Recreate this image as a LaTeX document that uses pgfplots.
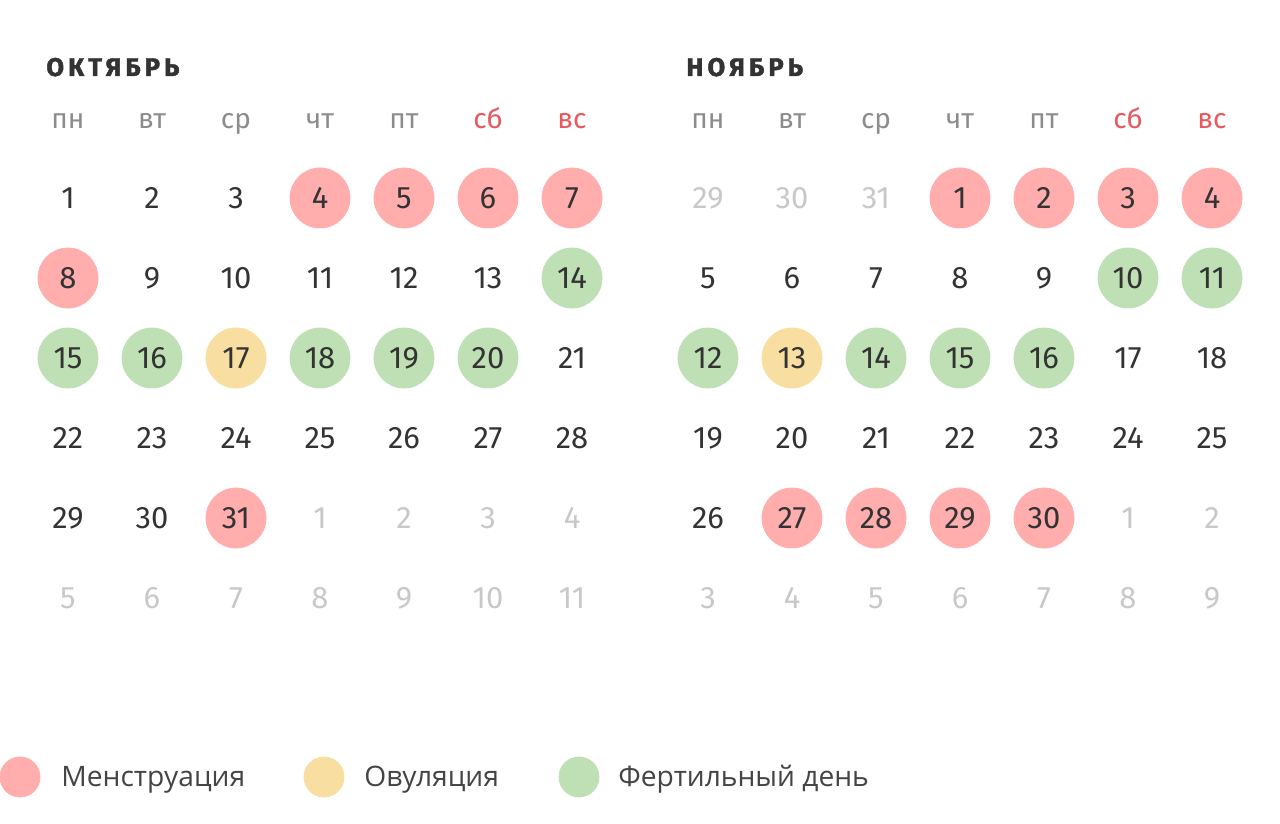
\documentclass[border=0pt]{standalone}
\usepackage{pgfplots}
\pgfplotsset{compat=1.18}
\usepackage{pgfplotstable}
\usepackage{fontspec}
\setmainfont{Fira Sans}
\newfontfamily\legfont{Open Sans}
\newfontfamily\ttlfont[LetterSpace=16, BoldFeatures={FakeBold=1.6}]{Fira Sans}

\definecolor{menst}{RGB}{255,173,173}
\definecolor{ovul}{RGB}{248,222,160}
\definecolor{fert}{RGB}{190,224,180}
\definecolor{txt}{RGB}{51,51,51}
\definecolor{fade}{RGB}{200,200,200}
\definecolor{wday}{RGB}{140,140,140}
\definecolor{wend}{RGB}{234,88,94}
\definecolor{legtxt}{RGB}{68,68,68}

% weekday headers
\pgfplotstableread{
c w
0 пн
1 вт
2 ср
3 чт
4 пт
}\workdays
\pgfplotstableread{
c w
5 сб
6 вс
}\weekend

% marked days: m = menstruation, o = ovulation, f = fertile
\pgfplotstableread{
c r k
3 0 m
4 0 m
5 0 m
6 0 m
0 1 m
6 1 f
0 2 f
1 2 f
2 2 o
3 2 f
4 2 f
5 2 f
2 4 m
}\octmarks
\pgfplotstableread{
c r k
3 0 m
4 0 m
5 0 m
6 0 m
5 1 f
6 1 f
0 2 f
1 2 o
2 2 f
3 2 f
4 2 f
1 4 m
2 4 m
3 4 m
4 4 m
}\novmarks

\pgfplotstableread{
c r d
0 0 1
1 0 2
2 0 3
3 0 4
4 0 5
5 0 6
6 0 7
0 1 8
1 1 9
2 1 10
3 1 11
4 1 12
5 1 13
6 1 14
0 2 15
1 2 16
2 2 17
3 2 18
4 2 19
5 2 20
6 2 21
0 3 22
1 3 23
2 3 24
3 3 25
4 3 26
5 3 27
6 3 28
0 4 29
1 4 30
2 4 31
}\octdays
\pgfplotstableread{
c r d
3 4 1
4 4 2
5 4 3
6 4 4
0 5 5
1 5 6
2 5 7
3 5 8
4 5 9
5 5 10
6 5 11
}\octfade

\pgfplotstableread{
c r d
3 0 1
4 0 2
5 0 3
6 0 4
0 1 5
1 1 6
2 1 7
3 1 8
4 1 9
5 1 10
6 1 11
0 2 12
1 2 13
2 2 14
3 2 15
4 2 16
5 2 17
6 2 18
0 3 19
1 3 20
2 3 21
3 3 22
4 3 23
5 3 24
6 3 25
0 4 26
1 4 27
2 4 28
3 4 29
4 4 30
}\novdays
\pgfplotstableread{
c r d
0 0 29
1 0 30
2 0 31
5 4 1
6 4 2
0 5 3
1 5 4
2 5 5
3 5 6
4 5 7
5 5 8
6 5 9
}\novfade

\begin{document}
\begin{tikzpicture}
\begin{axis}[
    width=640pt, height=412pt, scale only axis,
    hide axis, clip=false,
    xmin=0, xmax=1280, ymin=0, ymax=824,
    y dir=reverse,
    dots/.style={only marks, mark=*, mark size=15pt,
        scatter, scatter src=explicit symbolic,
        scatter/classes={
            m={mark=*, draw=menst, fill=menst},
            o={mark=*, draw=ovul, fill=ovul},
            f={mark=*, draw=fert, fill=fert}}},
    lbl/.style={draw=none, mark=none,
        nodes near coords={\pgfplotspointmeta},
        point meta=explicit symbolic,
        every node near coord/.style={anchor=center, inner sep=0pt,
            text=#1, font=\fontsize{15.5}{18}\selectfont}},
    hdr/.style={draw=none, mark=none,
        nodes near coords={\pgfplotspointmeta},
        point meta=explicit symbolic,
        every node near coord/.style={anchor=base, inner sep=0pt,
            text=#1, font=\fontsize{14}{17}\selectfont}},
]
\path (axis cs:0,0) rectangle (axis cs:1280,824);

% circles
\addplot[dots] table[x expr=68+84*\thisrow{c}, y expr=198+80*\thisrow{r}, meta=k] {\octmarks};
\addplot[dots] table[x expr=708+84*\thisrow{c}, y expr=198+80*\thisrow{r}, meta=k] {\novmarks};

% day numbers
\addplot[lbl=txt] table[x expr=68+84*\thisrow{c}, y expr=198+80*\thisrow{r}, meta=d] {\octdays};
\addplot[lbl=fade] table[x expr=68+84*\thisrow{c}, y expr=198+80*\thisrow{r}, meta=d] {\octfade};
\addplot[lbl=txt] table[x expr=708+84*\thisrow{c}, y expr=198+80*\thisrow{r}, meta=d] {\novdays};
\addplot[lbl=fade] table[x expr=708+84*\thisrow{c}, y expr=198+80*\thisrow{r}, meta=d] {\novfade};

% weekday headers
\addplot[hdr=wday] table[x expr=68+84*\thisrow{c}, y expr=129, meta=w] {\workdays};
\addplot[hdr=wend] table[x expr=68+84*\thisrow{c}, y expr=129, meta=w] {\weekend};
\addplot[hdr=wday] table[x expr=708+84*\thisrow{c}, y expr=129, meta=w] {\workdays};
\addplot[hdr=wend] table[x expr=708+84*\thisrow{c}, y expr=129, meta=w] {\weekend};

% month titles
\node[anchor=base west, inner sep=0pt, text=txt, font=\ttlfont\bfseries\fontsize{12.8}{15}\selectfont]
    at (axis cs:46,76) {ОКТЯБРЬ};
\node[anchor=base west, inner sep=0pt, text=txt, font=\ttlfont\bfseries\fontsize{12.8}{15}\selectfont]
    at (axis cs:686,76) {НОЯБРЬ};

% legend
\addplot[only marks, mark=*, mark size=10pt, draw=menst, fill=menst] coordinates {(20,777)};
\addplot[only marks, mark=*, mark size=10pt, draw=ovul, fill=ovul] coordinates {(324,777)};
\addplot[only marks, mark=*, mark size=10pt, draw=fert, fill=fert] coordinates {(579,777)};
\node[anchor=base west, inner sep=0pt, text=legtxt, font=\legfont\fontsize{14.1}{17}\selectfont]
    at (axis cs:61,786) {Менструация};
\node[anchor=base west, inner sep=0pt, text=legtxt, font=\legfont\fontsize{14.1}{17}\selectfont]
    at (axis cs:364,786) {Овуляция};
\node[anchor=base west, inner sep=0pt, text=legtxt, font=\legfont\fontsize{14.1}{17}\selectfont]
    at (axis cs:618,786) {Фертильный день};
\end{axis}
\end{tikzpicture}
\end{document}
